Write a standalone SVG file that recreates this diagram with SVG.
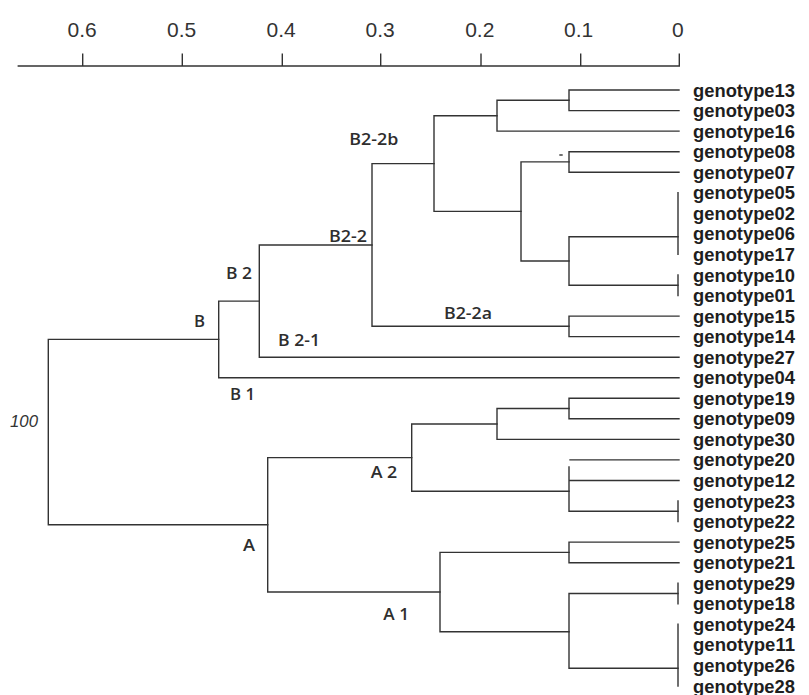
<svg xmlns="http://www.w3.org/2000/svg" width="809" height="695" viewBox="0 0 809 695">
<style>
.ln{fill:none;stroke:#333;stroke-width:1.4;stroke-linecap:square}
.ax{font-family:"Liberation Sans",Arial,sans-serif;font-size:21px;fill:#333;text-anchor:middle}
.lf{font-family:"Liberation Sans",Arial,sans-serif;font-size:18px;font-weight:bold;fill:#1e1e1e}
.cl{font-family:"Open Sans","Noto Sans",sans-serif;font-size:16px;font-weight:600;fill:#2e2e2e}
.bs{font-family:"Liberation Sans",Arial,sans-serif;font-size:16.8px;font-style:italic;fill:#333}
</style>
<rect width="809" height="695" fill="#fff"/>
<g id="axis">
<path class="ln" d="M18.3 66 H679.3 M82.7 54.3 V66 M182.3 54.3 V66 M282.3 54.3 V66 M380.7 54.3 V66 M481 54.3 V66 M580.7 54.3 V66 M679.3 54.3 V66"/>
<text class="ax" x="82.2" y="36.7">0.6</text>
<text class="ax" x="181.7" y="36.7">0.5</text>
<text class="ax" x="281.2" y="36.7">0.4</text>
<text class="ax" x="380.2" y="36.7">0.3</text>
<text class="ax" x="479.8" y="36.7">0.2</text>
<text class="ax" x="578.7" y="36.7">0.1</text>
<text class="ax" x="677.8" y="36.7">0</text>
</g>
<g id="connectors">
<path class="ln" d="M679 90 H569 V110.6 H679"/>
<path class="ln" d="M569 100.3 H497 V131.1 H679"/>
<path class="ln" d="M679 151.7 H569 V172.2 H679"/>
<path class="ln" d="M678 236.7 H569 V285.2 H678"/>
<path class="ln" d="M569 161.9 H521 V261 H569"/>
<path class="ln" d="M497 115.7 H434 V211.4 H521"/>
<path class="ln" d="M679 316.1 H569 V336.6 H679"/>
<path class="ln" d="M434 163.6 H372 V326.3 H569"/>
<path class="ln" d="M372 245 H259.3 V357.2 H679"/>
<path class="ln" d="M259.3 301.1 H218.7 V377.7 H679"/>
<path class="ln" d="M679 398.3 H569 V418.8 H679"/>
<path class="ln" d="M569 408.5 H497 V439.4 H679"/>
<path class="ln" d="M569 467 V511.3 H678 M569 480.5 H679 M570 459.9 H679"/>
<path class="ln" d="M497 424 H411.7 V491.3 H569"/>
<path class="ln" d="M679 542.1 H569 V562.7 H679"/>
<path class="ln" d="M678 593.5 H569 V668.3 H678"/>
<path class="ln" d="M569 552.4 H440 V631.7 H569"/>
<path class="ln" d="M411.7 457.6 H267.7 V592 H440"/>
<path class="ln" d="M218.7 339.4 H48.3 V524.8 H267.7"/>
<path class="ln" d="M678 192.8 V254.4 M678 275 V295.5 M678 501 V521.6 M678 583.2 V603.8 M678 624.3 V686"/>
<path class="ln" d="M560 155 H562" stroke-width="1.2"/>
</g>
<g id="leaves">
<g id="genotype13"><text class="lf" x="693" y="96.5" textLength="102" lengthAdjust="spacingAndGlyphs">genotype13</text></g>
<g id="genotype03"><text class="lf" x="693" y="117.1" textLength="102" lengthAdjust="spacingAndGlyphs">genotype03</text></g>
<g id="genotype16"><text class="lf" x="693" y="137.6" textLength="102" lengthAdjust="spacingAndGlyphs">genotype16</text></g>
<g id="genotype08"><text class="lf" x="693" y="158.2" textLength="102" lengthAdjust="spacingAndGlyphs">genotype08</text></g>
<g id="genotype07"><text class="lf" x="693" y="178.7" textLength="102" lengthAdjust="spacingAndGlyphs">genotype07</text></g>
<g id="genotype05"><text class="lf" x="693" y="199.3" textLength="102" lengthAdjust="spacingAndGlyphs">genotype05</text></g>
<g id="genotype02"><text class="lf" x="693" y="219.8" textLength="102" lengthAdjust="spacingAndGlyphs">genotype02</text></g>
<g id="genotype06"><text class="lf" x="693" y="240.4" textLength="102" lengthAdjust="spacingAndGlyphs">genotype06</text></g>
<g id="genotype17"><text class="lf" x="693" y="260.9" textLength="102" lengthAdjust="spacingAndGlyphs">genotype17</text></g>
<g id="genotype10"><text class="lf" x="693" y="281.5" textLength="102" lengthAdjust="spacingAndGlyphs">genotype10</text></g>
<g id="genotype01"><text class="lf" x="693" y="302" textLength="102" lengthAdjust="spacingAndGlyphs">genotype01</text></g>
<g id="genotype15"><text class="lf" x="693" y="322.6" textLength="102" lengthAdjust="spacingAndGlyphs">genotype15</text></g>
<g id="genotype14"><text class="lf" x="693" y="343.1" textLength="102" lengthAdjust="spacingAndGlyphs">genotype14</text></g>
<g id="genotype27"><text class="lf" x="693" y="363.7" textLength="102" lengthAdjust="spacingAndGlyphs">genotype27</text></g>
<g id="genotype04"><text class="lf" x="693" y="384.2" textLength="102" lengthAdjust="spacingAndGlyphs">genotype04</text></g>
<g id="genotype19"><text class="lf" x="693" y="404.8" textLength="102" lengthAdjust="spacingAndGlyphs">genotype19</text></g>
<g id="genotype09"><text class="lf" x="693" y="425.3" textLength="102" lengthAdjust="spacingAndGlyphs">genotype09</text></g>
<g id="genotype30"><text class="lf" x="693" y="445.9" textLength="102" lengthAdjust="spacingAndGlyphs">genotype30</text></g>
<g id="genotype20"><text class="lf" x="693" y="466.4" textLength="102" lengthAdjust="spacingAndGlyphs">genotype20</text></g>
<g id="genotype12"><text class="lf" x="693" y="487" textLength="102" lengthAdjust="spacingAndGlyphs">genotype12</text></g>
<g id="genotype23"><text class="lf" x="693" y="507.5" textLength="102" lengthAdjust="spacingAndGlyphs">genotype23</text></g>
<g id="genotype22"><text class="lf" x="693" y="528.1" textLength="102" lengthAdjust="spacingAndGlyphs">genotype22</text></g>
<g id="genotype25"><text class="lf" x="693" y="548.6" textLength="102" lengthAdjust="spacingAndGlyphs">genotype25</text></g>
<g id="genotype21"><text class="lf" x="693" y="569.2" textLength="102" lengthAdjust="spacingAndGlyphs">genotype21</text></g>
<g id="genotype29"><text class="lf" x="693" y="589.7" textLength="102" lengthAdjust="spacingAndGlyphs">genotype29</text></g>
<g id="genotype18"><text class="lf" x="693" y="610.3" textLength="102" lengthAdjust="spacingAndGlyphs">genotype18</text></g>
<g id="genotype24"><text class="lf" x="693" y="630.8" textLength="102" lengthAdjust="spacingAndGlyphs">genotype24</text></g>
<g id="genotype11"><text class="lf" x="693" y="651.4" textLength="102" lengthAdjust="spacingAndGlyphs">genotype11</text></g>
<g id="genotype26"><text class="lf" x="693" y="671.9" textLength="102" lengthAdjust="spacingAndGlyphs">genotype26</text></g>
<g id="genotype28"><text class="lf" x="693" y="692.5" textLength="102" lengthAdjust="spacingAndGlyphs">genotype28</text></g>
</g>
<g id="clusters">
<g id="c-B2-2b"><text class="cl" x="349.3" y="145" textLength="49" lengthAdjust="spacingAndGlyphs">B2-2b</text></g>
<g id="c-B2-2"><text class="cl" x="329" y="241.7" textLength="38" lengthAdjust="spacingAndGlyphs">B2-2</text></g>
<g id="c-B2"><text class="cl" x="226" y="279" textLength="26" lengthAdjust="spacingAndGlyphs">B 2</text></g>
<g id="c-B"><text class="cl" x="194" y="326.7" textLength="11" lengthAdjust="spacingAndGlyphs">B</text></g>
<g id="c-B2-1"><text class="cl" x="278" y="346" textLength="42" lengthAdjust="spacingAndGlyphs">B 2-1</text></g>
<g id="c-B1"><text class="cl" x="230" y="400" textLength="25" lengthAdjust="spacingAndGlyphs">B 1</text></g>
<g id="c-B2-2a"><text class="cl" x="444" y="319" textLength="48" lengthAdjust="spacingAndGlyphs">B2-2a</text></g>
<g id="c-A2"><text class="cl" x="370.7" y="478.3" textLength="26.6" lengthAdjust="spacingAndGlyphs">A 2</text></g>
<g id="c-A"><text class="cl" x="243" y="550.7" textLength="12" lengthAdjust="spacingAndGlyphs">A</text></g>
<g id="c-A1"><text class="cl" x="383.3" y="620" textLength="25.7" lengthAdjust="spacingAndGlyphs">A 1</text></g>
<g id="bootstrap"><text class="bs" x="10" y="426.5" textLength="28" lengthAdjust="spacingAndGlyphs">100</text></g>
</g>
</svg>
